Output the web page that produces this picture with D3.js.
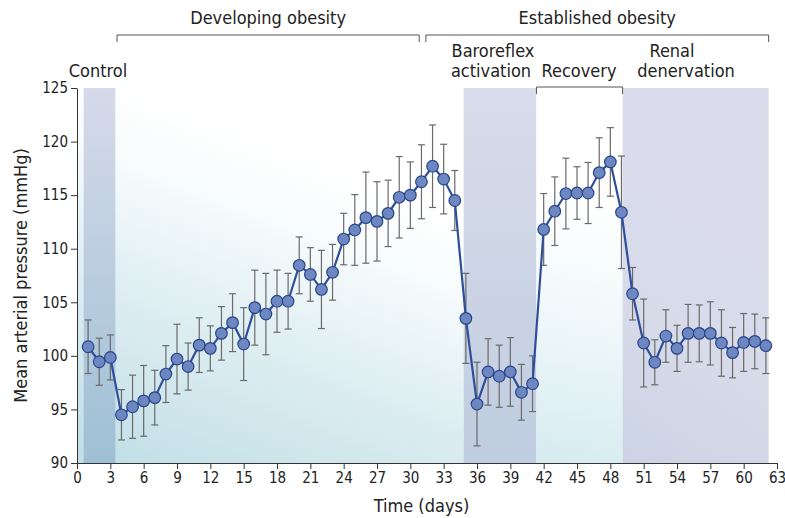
<!DOCTYPE html>
<html>
<head>
<meta charset="utf-8">
<script src="https://cdn.jsdelivr.net/npm/d3@7"></script>
<style>
  body { margin: 0; background: #fff; }
  svg text { font-family: "Liberation Sans Narrow", "DejaVu Sans Condensed", "Arial Narrow", sans-serif; fill: #222; }
  .axis path, .axis line { stroke: #333; }
  .axis text { font-size: 15px; }
</style>
</head>
<body>
<div id="chart"></div>
<script>
// --- data ---
const days = d3.range(1, 63);
const meanMAP = [
  100.85, 99.45, 99.85, 94.5, 95.25, 95.8, 96.1, 98.3, 99.7, 99.0,
  101.0, 100.7, 102.1, 103.1, 101.1, 104.5, 103.9, 105.1, 105.1, 108.45,
  107.6, 106.2, 107.8, 110.9, 111.75, 112.9, 112.55, 113.3, 114.8, 115.0,
  116.25, 117.7, 116.5, 114.5, 103.5, 95.5, 98.5, 98.1, 98.5, 96.6,
  97.4, 111.8, 113.5, 115.15, 115.2, 115.2, 117.1, 118.1, 113.4, 105.8,
  101.2, 99.4, 101.85, 100.7, 102.1, 102.1, 102.1, 101.2, 100.3, 101.25,
  101.35, 100.95
];
const semMAP = [
  2.5, 2.2, 2.1, 2.35, 2.95, 3.3, 2.55, 2.65, 3.25, 2.2,
  2.55, 2.1, 2.5, 2.7, 3.4, 3.5, 3.8, 2.9, 2.6, 2.65,
  2.5, 3.65, 2.6, 2.4, 3.3, 4.25, 3.7, 3.1, 3.8, 3.1,
  3.45, 3.85, 3.25, 2.8, 4.2, 3.9, 3.1, 2.9, 3.2, 2.6,
  2.6, 3.35, 3.2, 3.3, 2.45, 2.85, 3.25, 3.2, 5.25, 2.45,
  4.1, 2.1, 2.45, 2.15, 2.7, 2.65, 2.95, 3.1, 2.35, 2.7,
  2.55, 2.6
];
const xTicks = d3.range(0, 64, 3);
const yTicks = [90, 95, 100, 105, 110, 115, 120, 125];

// shaded periods (in days)
const bandNames = ["control", "baroreflex", "recovery", "renal"];
const bandStart = [0.6, 34.8, 41.35, 49.1];
const bandEnd = [3.45, 41.35, 49.1, 62.25];

// top labels
const phaseNames = ["Developing obesity", "Established obesity"];
const phaseStart = [3.6, 31.4];
const phaseEnd = [30.8, 62.25];

// --- chart setup ---
const W = 785, H = 518;
const margin = { top: 88, right: 8, bottom: 55, left: 77 };
const width = 700, height = 375;

const svg = d3.select("#chart").append("svg")
  .attr("width", W).attr("height", H);

const x = d3.scaleLinear().domain([0, 63]).range([margin.left, margin.left + width]);
const y = d3.scaleLinear().domain([90, 125]).range([margin.top + height, margin.top]);

const defs = svg.append("defs");

function grad(id, stops, x1, y1, x2, y2) {
  const g = defs.append("linearGradient").attr("id", id)
    .attr("gradientUnits", "userSpaceOnUse")
    .attr("x1", x1).attr("y1", y1).attr("x2", x2).attr("y2", y2);
  stops.forEach(s => g.append("stop").attr("offset", s[0]).attr("stop-color", s[1]));
}

grad("bgGrad", [[0, "#c0dee6"], [0.45, "#dcedf1"], [0.8, "#f6fbfc"], [1, "#ffffff"]],
  x(0), y(90), x(12), y(122));
grad("recGrad", [[0, "#d6ebf0"], [0.6, "#f2f9fb"], [1, "#ffffff"]],
  x(41.3), y(90), x(46), y(115));
grad("ctrlGrad", [[0, "#d6daea"], [1, "#9ebfd4"]], 0, y(125), 0, y(90));
grad("baroGrad", [[0, "#d9dcea"], [1, "#bfcde0"]], 0, y(125), 0, y(90));
grad("renalGrad", [[0, "#cbd3e4"], [0.5, "#d6dae9"], [1, "#dadcec"]],
  x(49), y(90), x(62), y(110));

// background (developing obesity area)
svg.append("rect")
  .attr("x", x(0)).attr("y", y(125))
  .attr("width", x(bandStart[1]) - x(0)).attr("height", y(90) - y(125))
  .attr("fill", "url(#bgGrad)");

const bandFill = { control: "url(#ctrlGrad)", baroreflex: "url(#baroGrad)", recovery: "url(#recGrad)", renal: "url(#renalGrad)" };
bandNames.forEach((n, i) => {
  svg.append("rect")
    .attr("x", x(bandStart[i])).attr("y", y(125))
    .attr("width", x(bandEnd[i]) - x(bandStart[i])).attr("height", y(90) - y(125))
    .attr("fill", bandFill[n]);
});

// axes
svg.append("g").attr("class", "axis")
  .attr("transform", `translate(0,${y(90)})`)
  .call(d3.axisBottom(x).tickValues(xTicks).tickSize(6).tickPadding(3).tickSizeOuter(0));

svg.append("g").attr("class", "axis")
  .attr("transform", `translate(${x(0)},0)`)
  .call(d3.axisLeft(y).tickValues(yTicks).tickSize(6).tickPadding(3).tickSizeOuter(0));

svg.append("text")
  .attr("x", x(31)).attr("y", 512)
  .attr("text-anchor", "middle").style("font-size", "18px")
  .text("Time (days)");

svg.append("text")
  .attr("transform", `translate(27,${y(107.5)}) rotate(-90)`)
  .attr("text-anchor", "middle").style("font-size", "18px")
  .text("Mean arterial pressure (mmHg)");

// brackets
const bracketY = 35;
phaseNames.forEach((n, i) => {
  const x0 = x(phaseStart[i]), x1 = x(phaseEnd[i]);
  svg.append("path")
    .attr("d", `M${x0},${bracketY + 7}V${bracketY}H${x1}V${bracketY + 7}`)
    .attr("fill", "none").attr("stroke", "#555").attr("stroke-width", 1);
  svg.append("text")
    .attr("x", (x0 + x1) / 2).attr("y", 24)
    .attr("text-anchor", "middle").style("font-size", "18px")
    .text(n);
});

// recovery bracket
svg.append("path")
  .attr("d", `M${x(bandStart[2])},${y(125) + 6}V${y(125) - 1}H${x(bandEnd[2])}V${y(125) + 6}`)
  .attr("fill", "none").attr("stroke", "#555").attr("stroke-width", 1);

// band labels
function label(lines, cx, anchor) {
  const t = svg.append("text").attr("text-anchor", anchor || "middle").style("font-size", "18px");
  lines.forEach((l, i) => {
    t.append("tspan").attr("x", cx[i]).attr("y", 77 - (lines.length - 1 - i) * 20).text(l);
  });
}
label(["Control"], [98]);
label(["Baroreflex", "activation"], [493, 491]);
label(["Recovery"], [579]);
label(["Renal", "denervation"], [672, 686]);

// error bars
const errG = svg.append("g").attr("stroke", "#6a6a6a").attr("stroke-width", 1.2);
days.forEach((d, i) => {
  const cx = x(d), hi = y(meanMAP[i] + semMAP[i]), lo = y(meanMAP[i] - semMAP[i]);
  errG.append("line").attr("x1", cx).attr("x2", cx).attr("y1", hi).attr("y2", lo);
  errG.append("line").attr("x1", cx - 3.5).attr("x2", cx + 3.5).attr("y1", hi).attr("y2", hi);
  errG.append("line").attr("x1", cx - 3.5).attr("x2", cx + 3.5).attr("y1", lo).attr("y2", lo);
});

// line
const line = d3.line().x((d, i) => x(days[i])).y(d => y(d));
svg.append("path").datum(meanMAP)
  .attr("d", line)
  .attr("fill", "none").attr("stroke", "#2e4f9c").attr("stroke-width", 2.2);

// points
svg.append("g").selectAll("circle")
  .data(meanMAP).join("circle")
  .attr("cx", (d, i) => x(days[i]))
  .attr("cy", d => y(d))
  .attr("r", 5.8)
  .attr("fill", "#6c87c2")
  .attr("stroke", "#2b4688")
  .attr("stroke-width", 1.2);
</script>
</body>
</html>
